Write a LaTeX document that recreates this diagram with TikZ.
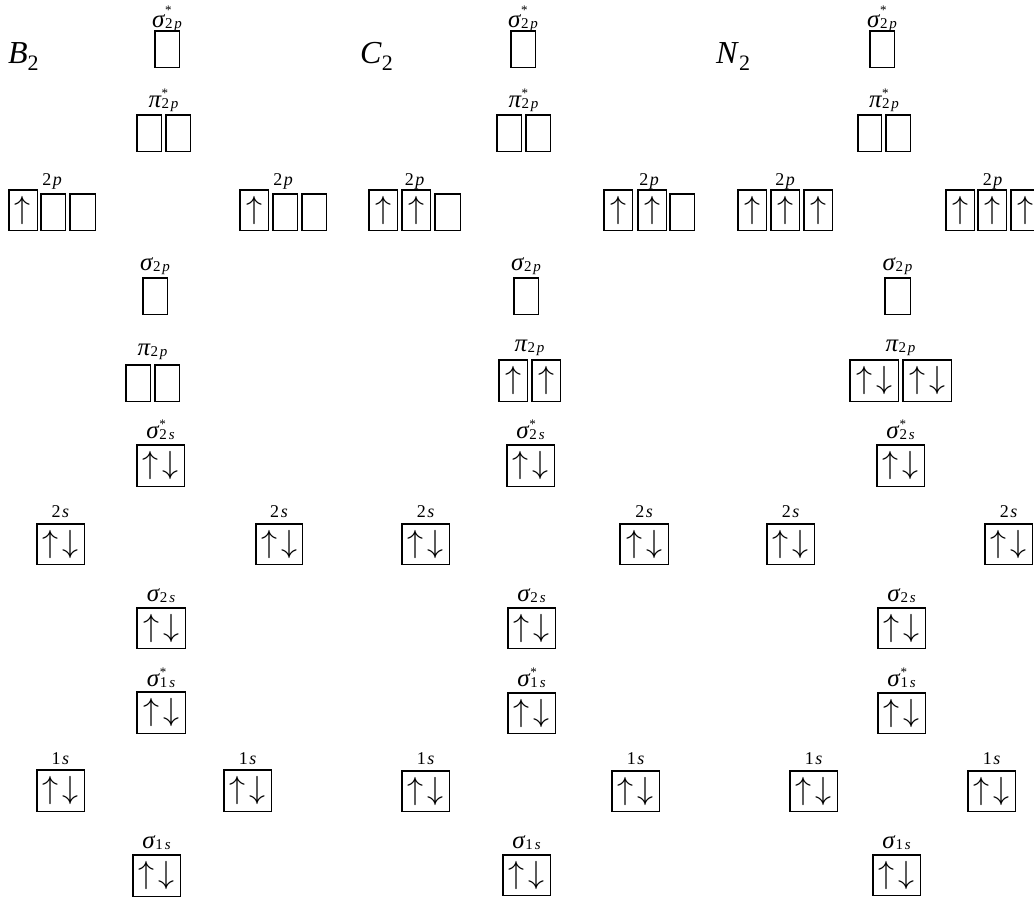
\RequirePackage{fix-cm}
\documentclass[tikz,border=0pt]{standalone}
\usepackage{fontspec}
\setmainfont{Liberation Serif}
\newcommand\spinU{\fontsize{32}{32}\selectfont$\uparrow$}
\newcommand\spinUD{\fontsize{32}{32}\selectfont$\uparrow\kern4pt\downarrow$}
% box: name, x1, x2, y1, y2, content
\newcommand\obx[6]{\node[obox, minimum width={(#3-#2-1.5)*1pt}, minimum height={(#5-#4-1.5)*1pt}] (#1) at ({(#2+#3)/2},{(#4+#5)/2}) {#6};}
% label: name, x, baseline y, content
\newcommand\olbl[4]{\node[lbl, anchor=base] (#1) at (#2,#3) {#4};}
\newcommand\oalbl[4]{\node[albl, anchor=base] (#1) at (#2,#3) {#4};}
% MO label with star: symbol, digit, letter, star raise
\newcommand\MOst[4]{\textit{#1}\rlap{\raisebox{#4}{\fontsize{13}{13}\selectfont *}}\raisebox{-1.5pt}{\fontsize{15}{15}\selectfont #2\kern1.8pt\textit{#3}}}
\newcommand\MOpl[3]{\textit{#1}\raisebox{-1.5pt}{\fontsize{15}{15}\selectfont #2\kern1.8pt\textit{#3}}}
\newcommand\AOl[2]{#1\kern1.5pt\textit{#2}}
\newcommand\Mol[2]{\textit{#1}\raisebox{-7pt}{\fontsize{22}{22}\selectfont #2}}
\begin{document}
\begin{tikzpicture}[x=1pt,y=-1pt,
  obox/.style={draw, line width=1.5pt, inner sep=0pt, rectangle},
  lbl/.style={inner sep=0pt, font=\fontsize{25}{25}\selectfont},
  albl/.style={inner sep=0pt, font=\fontsize{18}{18}\selectfont},
  mlbl/.style={inner sep=0pt, font=\fontsize{32}{32}\selectfont, anchor=base west}]
\fill[white] (0,0) rectangle (1034,898);
\useasboundingbox (0,0) rectangle (1034,898);

% ---------------- B2 ----------------
\node[mlbl] (mB) at (8,63) {\Mol{B}{2}};
\obx{bsps}{154}{180}{30}{68}{}
\olbl{lbsps}{167}{27}{\MOst{σ}{2}{p}{12.5pt}}
\obx{bppsA}{136}{162}{114}{152}{}
\obx{bppsB}{165}{191}{114}{152}{}
\olbl{lbpps}{163.5}{107}{\MOst{π}{2}{p}{10pt}}
\obx{bLpA}{8}{38}{189}{231}{\spinU}
\obx{bLpB}{40}{66}{193}{231}{}
\obx{bLpC}{69}{96}{193}{231}{}
\oalbl{lbLp}{52}{185}{\AOl{2}{p}}
\obx{bRpA}{239}{269}{189}{231}{\spinU}
\obx{bRpB}{272}{298}{193}{231}{}
\obx{bRpC}{301}{327}{193}{231}{}
\oalbl{lbRp}{283}{185}{\AOl{2}{p}}
\obx{bsp}{142}{168}{277}{315}{}
\olbl{lbsp}{155}{270}{\MOpl{σ}{2}{p}}
\obx{bppA}{125}{151}{364}{402}{}
\obx{bppB}{154}{180}{364}{402}{}
\olbl{lbpp}{152.5}{355}{\MOpl{π}{2}{p}}
\obx{bsss}{136}{185}{444}{487}{\spinUD}
\olbl{lbsss}{160.5}{438}{\MOst{σ}{2}{s}{10pt}}
\obx{bLs}{36}{85}{523}{565}{\spinUD}
\oalbl{lbLs}{60.5}{517}{\AOl{2}{s}}
\obx{bRs}{255}{303}{523}{565}{\spinUD}
\oalbl{lbRs}{279}{517}{\AOl{2}{s}}
\obx{bss}{136}{186}{607}{649}{\spinUD}
\olbl{lbss}{161}{601}{\MOpl{σ}{2}{s}}
\obx{bsos}{136}{186}{691}{734}{\spinUD}
\olbl{lbsos}{161}{686}{\MOst{σ}{1}{s}{10pt}}
\obx{bLo}{36}{85}{769}{812}{\spinUD}
\oalbl{lbLo}{60.5}{764}{\AOl{1}{s}}
\obx{bRo}{223}{272}{769}{812}{\spinUD}
\oalbl{lbRo}{247.5}{764}{\AOl{1}{s}}
\obx{bso}{132}{181}{854}{897}{\spinUD}
\olbl{lbso}{156.5}{848}{\MOpl{σ}{1}{s}}

% ---------------- C2 ----------------
\node[mlbl] (mC) at (360,63) {\Mol{C}{2}};
\obx{csps}{510}{536}{30}{68}{}
\olbl{lcsps}{523}{27}{\MOst{σ}{2}{p}{12.5pt}}
\obx{cppsA}{496}{522}{114}{152}{}
\obx{cppsB}{525}{551}{114}{152}{}
\olbl{lcpps}{523.5}{107}{\MOst{π}{2}{p}{10pt}}
\obx{cLpA}{368}{398}{189}{231}{\spinU}
\obx{cLpB}{401}{431}{189}{231}{\spinU}
\obx{cLpC}{434}{461}{193}{231}{}
\oalbl{lcLp}{414.5}{185}{\AOl{2}{p}}
\obx{cRpA}{603}{633}{189}{231}{\spinU}
\obx{cRpB}{637}{667}{189}{231}{\spinU}
\obx{cRpC}{669}{695}{193}{231}{}
\oalbl{lcRp}{649}{185}{\AOl{2}{p}}
\obx{csp}{513}{539}{277}{315}{}
\olbl{lcsp}{526}{270}{\MOpl{σ}{2}{p}}
\obx{cppA}{498}{528}{359}{402}{\spinU}
\obx{cppB}{531}{561}{359}{402}{\spinU}
\olbl{lcpp}{529.5}{351}{\MOpl{π}{2}{p}}
\obx{csss}{506}{555}{444}{487}{\spinUD}
\olbl{lcsss}{530.5}{438}{\MOst{σ}{2}{s}{10pt}}
\obx{cLs}{401}{450}{523}{565}{\spinUD}
\oalbl{lcLs}{425.5}{517}{\AOl{2}{s}}
\obx{cRs}{619}{669}{523}{565}{\spinUD}
\oalbl{lcRs}{644}{517}{\AOl{2}{s}}
\obx{css}{507}{556}{607}{649}{\spinUD}
\olbl{lcss}{531.5}{601}{\MOpl{σ}{2}{s}}
\obx{csos}{507}{556}{692}{734}{\spinUD}
\olbl{lcsos}{531.5}{686}{\MOst{σ}{1}{s}{10pt}}
\obx{cLo}{401}{450}{770}{812}{\spinUD}
\oalbl{lcLo}{425.5}{764}{\AOl{1}{s}}
\obx{cRo}{611}{660}{770}{812}{\spinUD}
\oalbl{lcRo}{635.5}{764}{\AOl{1}{s}}
\obx{cso}{502}{551}{854}{896}{\spinUD}
\olbl{lcso}{526.5}{848}{\MOpl{σ}{1}{s}}

% ---------------- N2 ----------------
\node[mlbl] (mN) at (716,63) {\Mol{N}{2}};
\obx{nsps}{869}{895}{30}{68}{}
\olbl{lnsps}{882}{27}{\MOst{σ}{2}{p}{12.5pt}}
\obx{nppsA}{857}{882}{114}{152}{}
\obx{nppsB}{885}{911}{114}{152}{}
\olbl{lnpps}{884}{107}{\MOst{π}{2}{p}{10pt}}
\obx{nLpA}{737}{767}{189}{231}{\spinU}
\obx{nLpB}{770}{800}{189}{231}{\spinU}
\obx{nLpC}{803}{833}{189}{231}{\spinU}
\oalbl{lnLp}{785}{185}{\AOl{2}{p}}
\obx{nRpA}{945}{975}{189}{231}{\spinU}
\obx{nRpB}{977}{1007}{189}{231}{\spinU}
\obx{nRpC}{1010}{1040}{189}{231}{\spinU}
\oalbl{lnRp}{992.5}{185}{\AOl{2}{p}}
\obx{nsp}{884}{911}{277}{315}{}
\olbl{lnsp}{897.5}{270}{\MOpl{σ}{2}{p}}
\obx{nppA}{849}{899}{359}{402}{\spinUD}
\obx{nppB}{902}{952}{359}{402}{\spinUD}
\olbl{lnpp}{900.5}{351}{\MOpl{π}{2}{p}}
\obx{nsss}{876}{925}{444}{487}{\spinUD}
\olbl{lnsss}{900.5}{438}{\MOst{σ}{2}{s}{10pt}}
\obx{nLs}{766}{815}{523}{565}{\spinUD}
\oalbl{lnLs}{790.5}{517}{\AOl{2}{s}}
\obx{nRs}{984}{1033}{523}{565}{\spinUD}
\oalbl{lnRs}{1008.5}{517}{\AOl{2}{s}}
\obx{nss}{877}{926}{607}{649}{\spinUD}
\olbl{lnss}{901.5}{601}{\MOpl{σ}{2}{s}}
\obx{nsos}{877}{926}{692}{734}{\spinUD}
\olbl{lnsos}{901.5}{686}{\MOst{σ}{1}{s}{10pt}}
\obx{nLo}{789}{838}{770}{812}{\spinUD}
\oalbl{lnLo}{813.5}{764}{\AOl{1}{s}}
\obx{nRo}{967}{1016}{770}{812}{\spinUD}
\oalbl{lnRo}{991.5}{764}{\AOl{1}{s}}
\obx{nso}{872}{921}{854}{896}{\spinUD}
\olbl{lnso}{896.5}{848}{\MOpl{σ}{1}{s}}
\end{tikzpicture}
\end{document}
